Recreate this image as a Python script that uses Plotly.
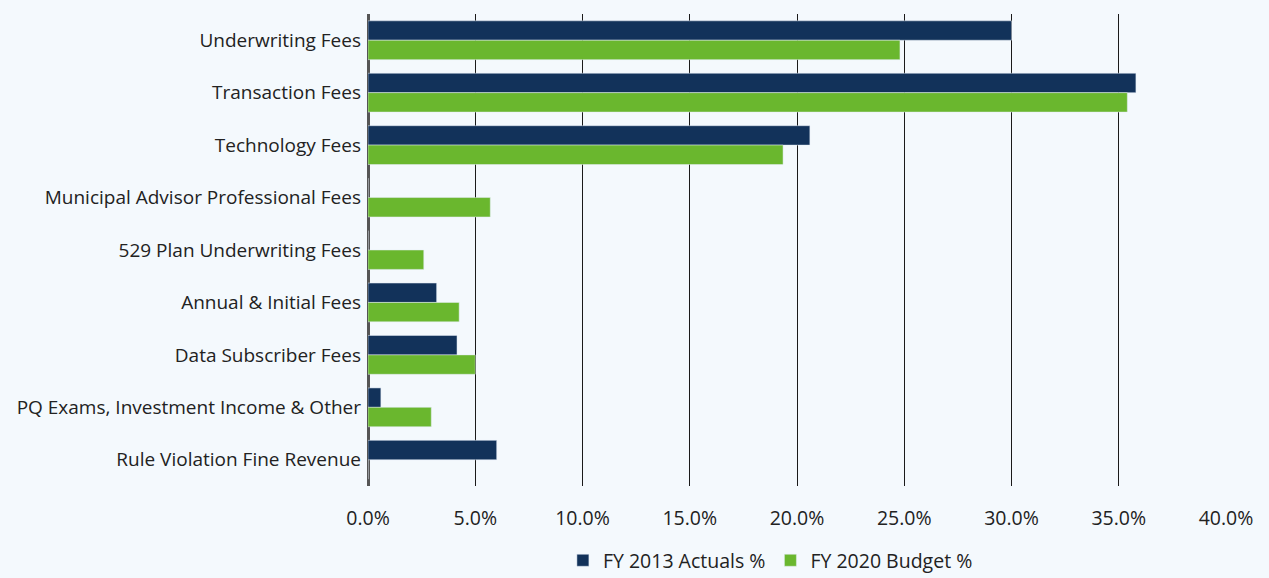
import plotly.graph_objects as go

categories = [
    "Underwriting Fees",
    "Transaction Fees",
    "Technology Fees",
    "Municipal Advisor Professional Fees",
    "529 Plan Underwriting Fees",
    "Annual & Initial Fees",
    "Data Subscriber Fees",
    "PQ Exams, Investment Income & Other",
    "Rule Violation Fine Revenue",
]
fy2013_actuals = [30.0, 35.8, 20.6, 0.0, 0.0, 3.2, 4.15, 0.6, 6.0]
fy2020_budget = [24.8, 35.4, 19.35, 5.7, 2.6, 4.25, 5.0, 2.95, 0.0]
tick_vals = [0, 5, 10, 15, 20, 25, 30, 35, 40]
tick_text = ["0.0%", "5.0%", "10.0%", "15.0%", "20.0%", "25.0%", "30.0%", "35.0%", "40.0%"]

NAVY = "#12325a"
GREEN = "#6ab72e"
BG = "#f4f9fd"
FONT = "Open Sans, Lato, sans-serif"

fig = go.Figure()
fig.add_trace(go.Bar(y=categories, x=fy2013_actuals, orientation="h",
                     name="FY 2013 Actuals %", marker_color=NAVY))
fig.add_trace(go.Bar(y=categories, x=fy2020_budget, orientation="h",
                     name="FY 2020 Budget %", marker_color=GREEN))

fig.update_layout(
    width=1269, height=578,
    barmode="group", bargap=0.26, bargroupgap=0,
    paper_bgcolor=BG, plot_bgcolor=BG,
    margin=dict(l=368, r=43, t=14, b=92, autoexpand=False),
    font=dict(family=FONT, size=17, color="#222222"),
    legend=dict(orientation="h", xref="paper", yref="paper",
                x=0.469, xanchor="center", y=-0.158, yanchor="middle",
                font=dict(size=19.5, color="#222222"), traceorder="normal",
                itemwidth=30, bgcolor="rgba(0,0,0,0)"),
    xaxis=dict(range=[0, 40], tickvals=tick_vals, ticktext=tick_text,
               showgrid=True, gridcolor="#1a1a1a", gridwidth=1,
               zeroline=True, zerolinecolor="#555555", zerolinewidth=2.5,
               showline=False, ticks="", ticklabelstandoff=18,
               tickfont=dict(size=19.5), fixedrange=True),
    yaxis=dict(autorange="reversed", showgrid=False, ticks="",
               ticklabelstandoff=6, tickfont=dict(size=19), showline=False),
)

fig.write_html("out.html", config={"displayModeBar": False},
               post_script="document.body.style.margin='0';document.body.style.background='%s';" % BG)
